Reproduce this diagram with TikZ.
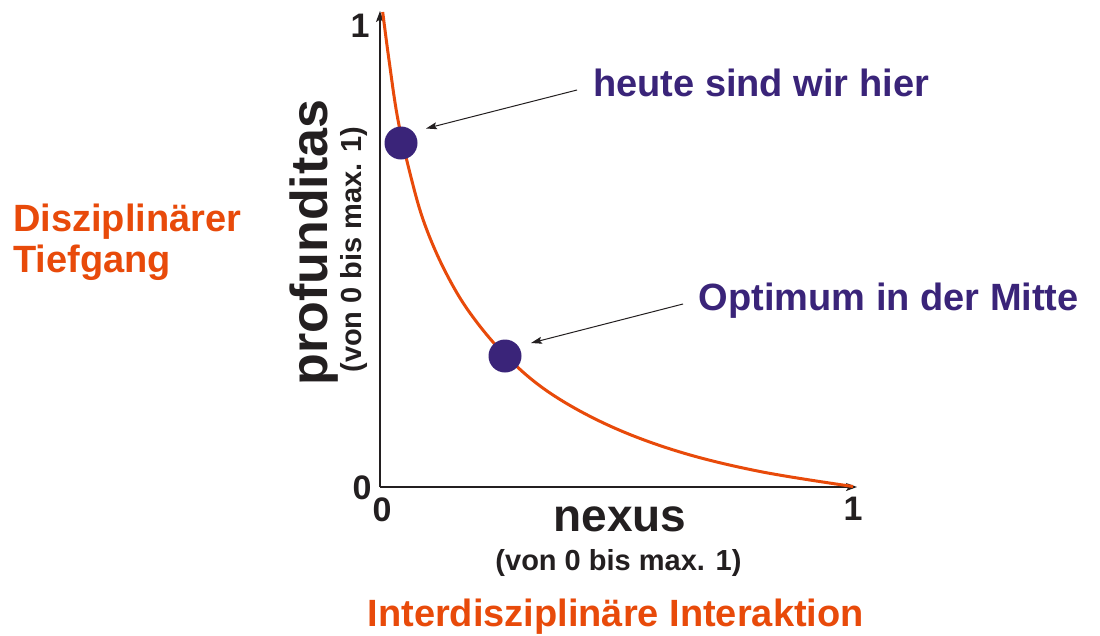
\documentclass[tikz,border=0pt]{standalone}
\usepackage{fontspec}
\setmainfont{Liberation Sans}
\usetikzlibrary{arrows.meta}
\definecolor{curveor}{RGB}{232,74,10}
\definecolor{dotpurple}{RGB}{58,36,121}
\definecolor{txtdark}{RGB}{35,31,32}
\begin{document}
\begin{tikzpicture}[x=1pt,y=-1pt,
  axisline/.style={draw=txtdark, line width=1.3pt, -{Stealth[length=11pt,width=8pt,inset=2.5pt]}},
  curveline/.style={draw=curveor, line width=3pt},
  dotmark/.style={circle, fill=dotpurple, minimum size=33pt, inner sep=0pt},
  pointer/.style={draw=txtdark, line width=1pt, -{Stealth[length=11pt,width=7pt,inset=2pt]}},
  biglbl/.style={font=\bfseries\fontsize{38}{41}\selectfont, inner sep=0pt},
  purplelbl/.style={biglbl, text=dotpurple, anchor=base west},
  orangelbl/.style={biglbl, text=curveor, anchor=base west},
  axisname/.style={font=\bfseries\fontsize{46}{50}\selectfont, inner sep=0pt, text=txtdark, anchor=base},
  yaxisname/.style={font=\bfseries\fontsize{52}{56}\selectfont, inner sep=0pt, text=txtdark, anchor=base},
  rangelbl/.style={font=\bfseries\fontsize{29}{32}\selectfont, inner sep=0pt, text=txtdark, anchor=base},
  ticklbl/.style={font=\bfseries\fontsize{34}{36}\selectfont, inner sep=0pt, text=txtdark, anchor=base}
]
\useasboundingbox (0,0) rectangle (1100,635);
\fill[white] (0,0) rectangle (1100,635);

% axes
\coordinate (O) at (380,487);
\coordinate (ytop) at (380,11);
\coordinate (xend) at (857,487);
\draw[axisline] (O) -- (ytop);
\draw[axisline] (O) -- (xend);

% curve
\draw[curveline] plot[smooth, tension=0.6] coordinates {(382.7,12) (389,60) (398,120) (411.7,180) (425,225) (445,271) (470,313) (506,356) (550,393) (610,426) (680,452) (760,471.5) (853,486.5)};

% dots
\node[dotmark] (dot1) at (401,143) {};
\node[dotmark] (dot2) at (505,356) {};

% labels with pointers
\node[purplelbl] (heute) at (593,96) {heute sind wir hier};
\node[purplelbl] (optimum) at (698.5,310) {Optimum in der Mitte};
\coordinate (p1s) at (577,90);
\coordinate (p1e) at (426,128.5);
\coordinate (p2s) at (683,304);
\coordinate (p2e) at (531,343);
\draw[pointer] (p1s) -- (p1e);
\draw[pointer] (p2s) -- (p2e);

% axis names
\node[axisname] (nexus) at (620,531) {nexus};
\node[rangelbl] (nexusrange) at (618.5,570) {(von 0 bis max. 1)};
\node[yaxisname, rotate=90] (prof) at (327,242.5) {profunditas};
\node[rangelbl, rotate=90] (profrange) at (361,249.5) {(von 0 bis max. 1)};

% tick labels
\node[ticklbl] (yone) at (360,37) {1};
\node[ticklbl] (yzero) at (362,499) {0};
\node[ticklbl] (xzero) at (382,521.5) {0};
\node[ticklbl] (xone) at (853,520) {1};

% orange descriptions
\node[orangelbl] (diszi) at (13,231) {Disziplinärer};
\node[orangelbl] (tief) at (13,272) {Tiefgang};
\node[orangelbl] (inter) at (367.4,626) {Interdisziplinäre Interaktion};
\end{tikzpicture}
\end{document}
